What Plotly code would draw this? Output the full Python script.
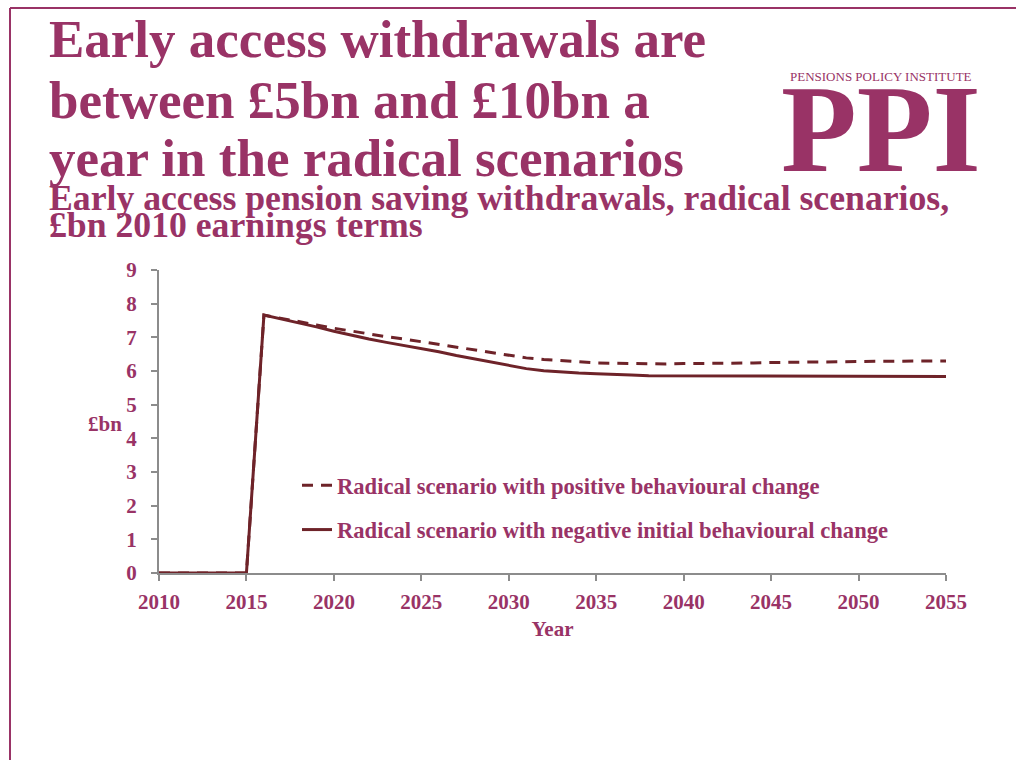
import plotly.graph_objects as go

# Early access withdrawals, £bn in 2010 earnings terms
years = list(range(2010, 2056))

positive_change = [
    0, 0, 0, 0, 0, 0,
    7.66, 7.57, 7.47, 7.37, 7.27, 7.18, 7.10, 7.02, 6.95, 6.87,
    6.78, 6.70, 6.62, 6.55, 6.47, 6.39, 6.34, 6.30, 6.27, 6.24,
    6.23, 6.22, 6.21, 6.21, 6.22, 6.22, 6.23, 6.23, 6.24, 6.25,
    6.26, 6.27, 6.27, 6.28, 6.28, 6.29, 6.29, 6.30, 6.30, 6.30,
]

negative_change = [
    0, 0, 0, 0, 0, 0,
    7.66, 7.55, 7.43, 7.31, 7.18, 7.06, 6.95, 6.85, 6.76, 6.67,
    6.57, 6.46, 6.36, 6.27, 6.16, 6.07, 6.01, 5.97, 5.94, 5.92,
    5.91, 5.88, 5.86, 5.86, 5.86, 5.85, 5.84, 5.84, 5.84, 5.84,
    5.84, 5.84, 5.84, 5.84, 5.84, 5.84, 5.84, 5.84, 5.84, 5.84,
]

series_names = [
    "Radical scenario with positive behavioural change",
    "Radical scenario with negative initial behavioural change",
]

title_lines = [
    "Early access withdrawals are",
    "between £5bn and £10bn a",
    "year in the radical scenarios",
]
subtitle_lines = [
    "Early access pension saving withdrawals, radical scenarios,",
    "£bn 2010 earnings terms",
]

PURPLE = "#993366"
LINE = "#6E2329"
AXIS = "#8C8C8C"
SERIF = "Liberation Serif, Times New Roman, serif"

W, H = 1016, 760
L, R, T, B = 159, 70, 270, 187
PW, PH = W - L - R, H - T - B


def px(x):
    return (x - L) / PW


def py(y):
    return (H - B - y) / PH


def bold(size):
    return dict(family=SERIF, size=size, color=PURPLE, weight="bold")


fig = go.Figure()
fig.add_trace(go.Scatter(
    x=years, y=positive_change, mode="lines", name=series_names[0],
    line=dict(color=LINE, width=3, dash="11px,8px"), legendgroup="a",
))
fig.add_trace(go.Scatter(
    x=years, y=negative_change, mode="lines", name=series_names[1],
    line=dict(color=LINE, width=3), legendgroup="b",
))

annotations = []
for txt, yc in zip(title_lines, [39, 100, 158]):
    annotations.append(dict(
        text=txt, x=px(47), y=py(yc), xanchor="left", yanchor="middle",
        showarrow=False, font=bold(53), xref="paper", yref="paper",
    ))
for txt, yc in zip(subtitle_lines, [198, 225]):
    annotations.append(dict(
        text=txt, x=px(47), y=py(yc), xanchor="left", yanchor="middle",
        showarrow=False, font=bold(35.7), xref="paper", yref="paper",
    ))
annotations.append(dict(
    text="PENSIONS POLICY INSTITUTE", x=px(881), y=py(77),
    xanchor="center", yanchor="middle", showarrow=False,
    font=dict(family=SERIF, size=13, color=PURPLE),
    xref="paper", yref="paper",
))
annotations.append(dict(
    text="PPI", x=px(881), y=py(129),
    xanchor="center", yanchor="middle", showarrow=False,
    font=bold(124), xref="paper", yref="paper",
))
annotations.append(dict(
    text="£bn", x=px(105), y=py(424),
    xanchor="center", yanchor="middle", showarrow=False,
    font=bold(21), xref="paper", yref="paper",
))

shapes = [
    dict(type="line", xref="paper", yref="paper",
         x0=px(10), x1=px(W), y0=py(8), y1=py(8),
         line=dict(color=PURPLE, width=2)),
    dict(type="line", xref="paper", yref="paper",
         x0=px(10), x1=px(10), y0=py(8), y1=py(H),
         line=dict(color=PURPLE, width=2)),
]

fig.update_layout(
    width=W, height=H, autosize=False,
    margin=dict(l=L, r=R, t=T, b=B),
    paper_bgcolor="white", plot_bgcolor="white",
    font=dict(family=SERIF, color=PURPLE),
    showlegend=True,
    legend=dict(
        x=px(297), y=py(464), xanchor="left", yanchor="top",
        bgcolor="rgba(0,0,0,0)", font=bold(22.6),
        tracegroupgap=12, traceorder="grouped", itemwidth=30,
    ),
    annotations=annotations,
    shapes=shapes,
    xaxis=dict(
        range=[2010, 2055], tick0=2010, dtick=5, showgrid=False, zeroline=False,
        showline=True, linecolor=AXIS, linewidth=2,
        ticks="outside", ticklen=6, tickwidth=1.5, tickcolor=AXIS,
        tickfont=bold(21), ticklabelstandoff=3,
        title=dict(text="Year", font=bold(21), standoff=8),
    ),
    yaxis=dict(
        range=[0, 9], dtick=1, showgrid=False, zeroline=False,
        showline=True, linecolor=AXIS, linewidth=2,
        ticks="outside", ticklen=6, tickwidth=1.5, tickcolor=AXIS,
        tickfont=bold(21), ticklabelstandoff=10,
    ),
)

fig.write_html("out.html")
